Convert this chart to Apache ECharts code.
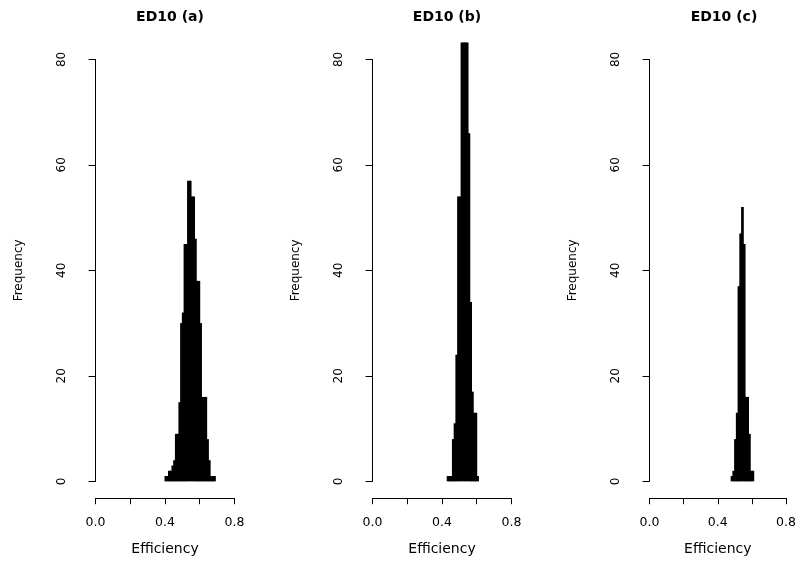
<!DOCTYPE html>
<html>
<head>
<meta charset="utf-8">
<script src="https://cdn.jsdelivr.net/npm/echarts@6/dist/echarts.min.js"></script>
<style>
  html, body { margin: 0; padding: 0; background: #fff; }
  #chart { width: 799px; height: 563px; }
</style>
</head>
<body>
<div id="chart"></div>
<script>
// ---- data -------------------------------------------------------------
const panelTitles = ['ED10 (a)', 'ED10 (b)', 'ED10 (c)'];
const binWidth = 0.01;

// left edges of the histogram classes and their frequencies
const binStartsA = [0.40, 0.41, 0.42, 0.43, 0.44, 0.45, 0.46, 0.47, 0.48, 0.49,
                    0.50, 0.51, 0.52, 0.53, 0.54, 0.55, 0.56, 0.57, 0.58, 0.59,
                    0.60, 0.61, 0.62, 0.63, 0.64, 0.65, 0.66, 0.67, 0.68];
const countsA    = [1, 1, 2, 2, 3, 4, 9, 9, 15, 30,
                    32, 45, 45, 57, 57, 54, 54, 46, 38, 38,
                    30, 16, 16, 16, 8, 4, 1, 1, 1];

const binStartsB = [0.43, 0.44, 0.45, 0.46, 0.47, 0.48, 0.49, 0.50, 0.51, 0.52,
                    0.53, 0.54, 0.55, 0.56, 0.57, 0.58, 0.59, 0.60];
const countsB    = [1, 1, 1, 8, 11, 24, 54, 54, 88, 97,
                    93, 86, 66, 34, 17, 13, 13, 1];

const binStartsC = [0.47, 0.48, 0.49, 0.50, 0.51, 0.52, 0.53, 0.54, 0.55, 0.56,
                    0.57, 0.58, 0.59];
const countsC    = [1, 2, 8, 13, 37, 47, 52, 45, 16, 16,
                    9, 2, 2];

const xTicks = [0.0, 0.2, 0.4, 0.6, 0.8];
const xTickLabels = ['0.0', '', '0.4', '', '0.8'];
const yTicks = [0, 20, 40, 60, 80];
const xTitle = 'Efficiency';
const yTitle = 'Frequency';

// ---- layout -----------------------------------------------------------
const FONT = 'DejaVu Sans';
const panelStep = 277;
const plotLeft = 90, plotWidth = 150;
const plotTop = 42.5, plotHeight = 455.7;
const xLo = xTicks[0], xHi = xTicks[xTicks.length - 1];
const yLo = yTicks[0], yHi = yTicks[yTicks.length - 1];
// plotting region padded by 4% of the tick range on each side
const xPad = (xHi - xLo) * 0.04, yPad = (yHi - yLo) * 0.04;
const xMin = xLo - xPad, xMax = xHi + xPad;
const yMin = yLo - yPad, yMax = yHi + yPad;

function toPx(v, lo, hi, start, len) { return start + (v - lo) / (hi - lo) * len; }

const panels = [
  { starts: binStartsA, counts: countsA },
  { starts: binStartsB, counts: countsB },
  { starts: binStartsC, counts: countsC }
];

// one filled rectangle per class; a small overlap keeps neighbours seamless
function renderBin(params, api) {
  const x0 = api.value(0), x1 = api.value(1), n = api.value(2);
  const pBase = api.coord([x0, 0]);
  const pTop = api.coord([x1, n]);
  const cs = params.coordSys;
  const shape = echarts.graphic.clipRectByRect(
    { x: pBase[0] - 0.5, y: pTop[1], width: pTop[0] - pBase[0] + 1, height: pBase[1] - pTop[1] },
    { x: cs.x, y: cs.y, width: cs.width, height: cs.height }
  );
  return shape && {
    type: 'rect',
    shape: shape,
    style: { fill: '#000' }
  };
}

const grid = [], xAxis = [], yAxis = [], series = [], title = [];
const textStyle = { color: '#000', fontFamily: FONT, fontSize: 12 };

panels.forEach((p, i) => {
  const left = plotLeft + i * panelStep;
  const bottom = plotTop + plotHeight;
  const ax0 = toPx(xLo, xMin, xMax, left, plotWidth);
  const ax1 = toPx(xHi, xMin, xMax, left, plotWidth);
  const ay0 = toPx(yLo, yMax, yMin, plotTop, plotHeight);
  const ay1 = toPx(yHi, yMax, yMin, plotTop, plotHeight);
  const g = i * 3;

  // data region
  grid.push({ left: left, top: plotTop, width: plotWidth, height: plotHeight });
  xAxis.push({ gridIndex: g, type: 'value', min: xMin, max: xMax, show: false });
  yAxis.push({ gridIndex: g, type: 'value', min: yMin, max: yMax, show: false });

  // frequency axis spanning only its tick range
  grid.push({ left: left, top: ay1, width: plotWidth, height: ay0 - ay1 });
  xAxis.push({ gridIndex: g + 1, type: 'value', min: xMin, max: xMax, show: false });
  yAxis.push({
    gridIndex: g + 1, type: 'value', position: 'left',
    min: yLo, max: yHi, interval: yTicks[1] - yTicks[0],
    axisLine: { show: true, lineStyle: { color: '#000', width: 1 } },
    axisTick: { show: true, inside: false, length: 7, lineStyle: { color: '#000', width: 1 } },
    axisLabel: { show: true, rotate: 90, margin: 22, ...textStyle },
    splitLine: { show: false },
    name: yTitle, nameLocation: 'middle', nameGap: 65, nameRotate: 90,
    nameTextStyle: { ...textStyle }
  });

  // efficiency axis spanning only its tick range
  grid.push({ left: ax0, top: bottom - 10, width: ax1 - ax0, height: 10 });
  xAxis.push({
    gridIndex: g + 2, type: 'value', position: 'bottom',
    min: xLo, max: xHi, interval: xTicks[1] - xTicks[0],
    axisLine: { show: true, onZero: false, lineStyle: { color: '#000', width: 1 } },
    axisTick: { show: true, inside: false, length: 6, lineStyle: { color: '#000', width: 1 } },
    axisLabel: {
      show: true, margin: 18, showMinLabel: true, showMaxLabel: true,
      formatter: (v) => {
        const k = xTicks.findIndex(t => Math.abs(t - v) < 1e-9);
        return k >= 0 ? xTickLabels[k] : '';
      },
      ...textStyle, fontSize: 12.5
    },
    splitLine: { show: false },
    name: xTitle, nameLocation: 'middle', nameGap: 44,
    nameTextStyle: { ...textStyle, fontSize: 14 }
  });
  yAxis.push({ gridIndex: g + 2, type: 'value', show: false });

  series.push({
    type: 'custom',
    xAxisIndex: g, yAxisIndex: g,
    renderItem: renderBin,
    encode: { x: [0, 1], y: 2 },
    data: p.starts.map((s, k) => [s, s + binWidth, p.counts[k]]),
    silent: true
  });

  title.push({
    text: panelTitles[i],
    left: left + plotWidth / 2, top: 5,
    textAlign: 'center',
    textStyle: { color: '#000', fontFamily: FONT, fontSize: 14, fontWeight: 'bold' }
  });
});

const chart = echarts.init(document.getElementById('chart'), null, { renderer: 'canvas' });
chart.setOption({
  animation: false,
  backgroundColor: '#fff',
  title: title,
  grid: grid,
  xAxis: xAxis,
  yAxis: yAxis,
  series: series
});
</script>
</body>
</html>
